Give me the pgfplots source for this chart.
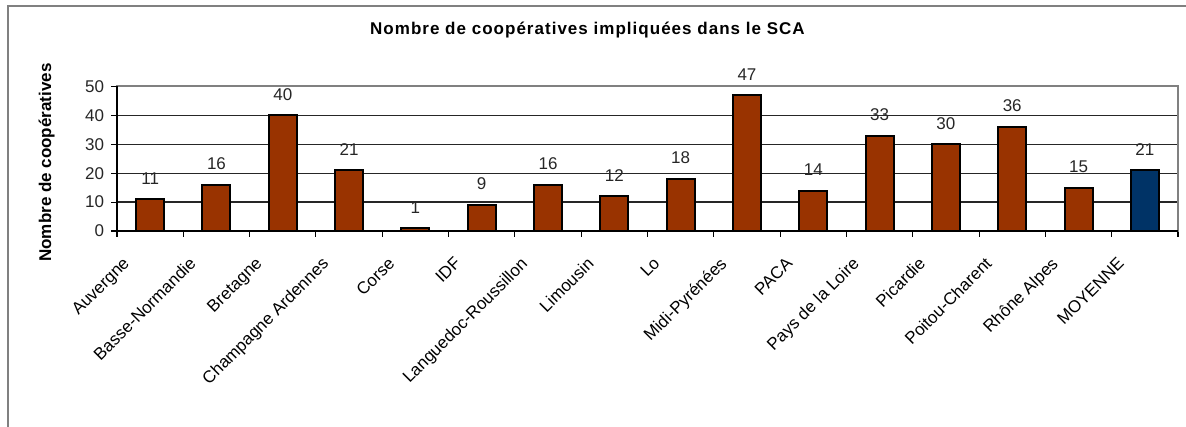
\documentclass[border=0pt]{standalone}
\usepackage{fontspec}
\setmainfont{Liberation Sans}
\newfontfamily\spaced[LetterSpace=6]{Liberation Sans}
\usepackage{pgfplots}
\pgfplotsset{compat=1.18}
\definecolor{brn}{HTML}{993300}
\definecolor{nvy}{HTML}{003366}
\begin{document}
\begin{tikzpicture}
\useasboundingbox (0,0) rectangle (889.5pt,-320.25pt);
\draw[gray, line width=1.2pt] (6pt,-320.25pt) -- (6pt,-4.5pt) -- (889.5pt,-4.5pt);
\begin{axis}[
  at={(87.75pt,-173.25pt)}, anchor=south west,
  scale only axis, width=795.75pt, height=108.4pt,
  xmin=-0.5, xmax=15.5, ymin=0, ymax=50,
  ytick={0,10,20,30,40,50},
  xtick={0,...,15},
  xticklabels={Auvergne,Basse-Normandie,Bretagne,Champagne Ardennes,Corse,IDF,Languedoc-Roussillon,Limousin,Lo,Midi-Pyrénées,PACA,Pays de la Loire,Picardie,Poitou-Charent,Rhône Alpes,MOYENNE},
  minor xtick={-0.5,0.5,...,15.5},
  major x tick style={draw=none},
  minor x tick style={black, line width=0.8pt},
  minor tick length=4.5pt,
  major tick length=4.5pt,
  ytick style={black, line width=0.8pt},
  tick align=outside,
  xtick pos=bottom, ytick pos=left,
  axis line style={draw=gray, line width=1.5pt},
  ymajorgrids, major grid style={black!85, line width=0.9pt},
  /pgf/number format/assume math mode=true,
  yticklabel style={font=\fontsize{12.75}{12.75}\selectfont, text=black!85, inner sep=1pt, xshift=-4pt},
  xticklabel style={font=\fontsize{12.75}{12.75}\selectfont, rotate=45, anchor=north east, inner sep=1pt, xshift=-24pt, yshift=6pt},
  ybar, bar width=21pt, bar shift=0pt,
  nodes near coords,
  every node near coord/.append style={font=\fontsize{12.75}{12.75}\selectfont, text=black!85, inner sep=0pt, anchor=south, yshift=10.5pt},
  clip=false,
]
\addplot[fill=brn, draw=black, line width=1.5pt] coordinates {
(0,11) (1,16) (2,40) (3,21) (4,1) (5,9) (6,16) (7,12) (8,18) (9,47) (10,14) (11,33) (12,30) (13,36) (14,15)};
\addplot[fill=nvy, draw=black, line width=1.5pt] coordinates {(15,21)};
\draw[black, line width=1.3pt] (rel axis cs:0,1) -- (rel axis cs:0,0) -- (rel axis cs:1,0);
\end{axis}
\node[font=\spaced\bfseries\fontsize{12.75}{12.75}\selectfont, anchor=base] at (440.6pt,-26.25pt) {Nombre de coopératives impliquées dans le SCA};
\node[font=\bfseries\fontsize{12.75}{12.75}\selectfont, rotate=90, anchor=base] at (38.25pt,-121.9pt) {Nombre de coopératives};
\end{tikzpicture}
\end{document}
